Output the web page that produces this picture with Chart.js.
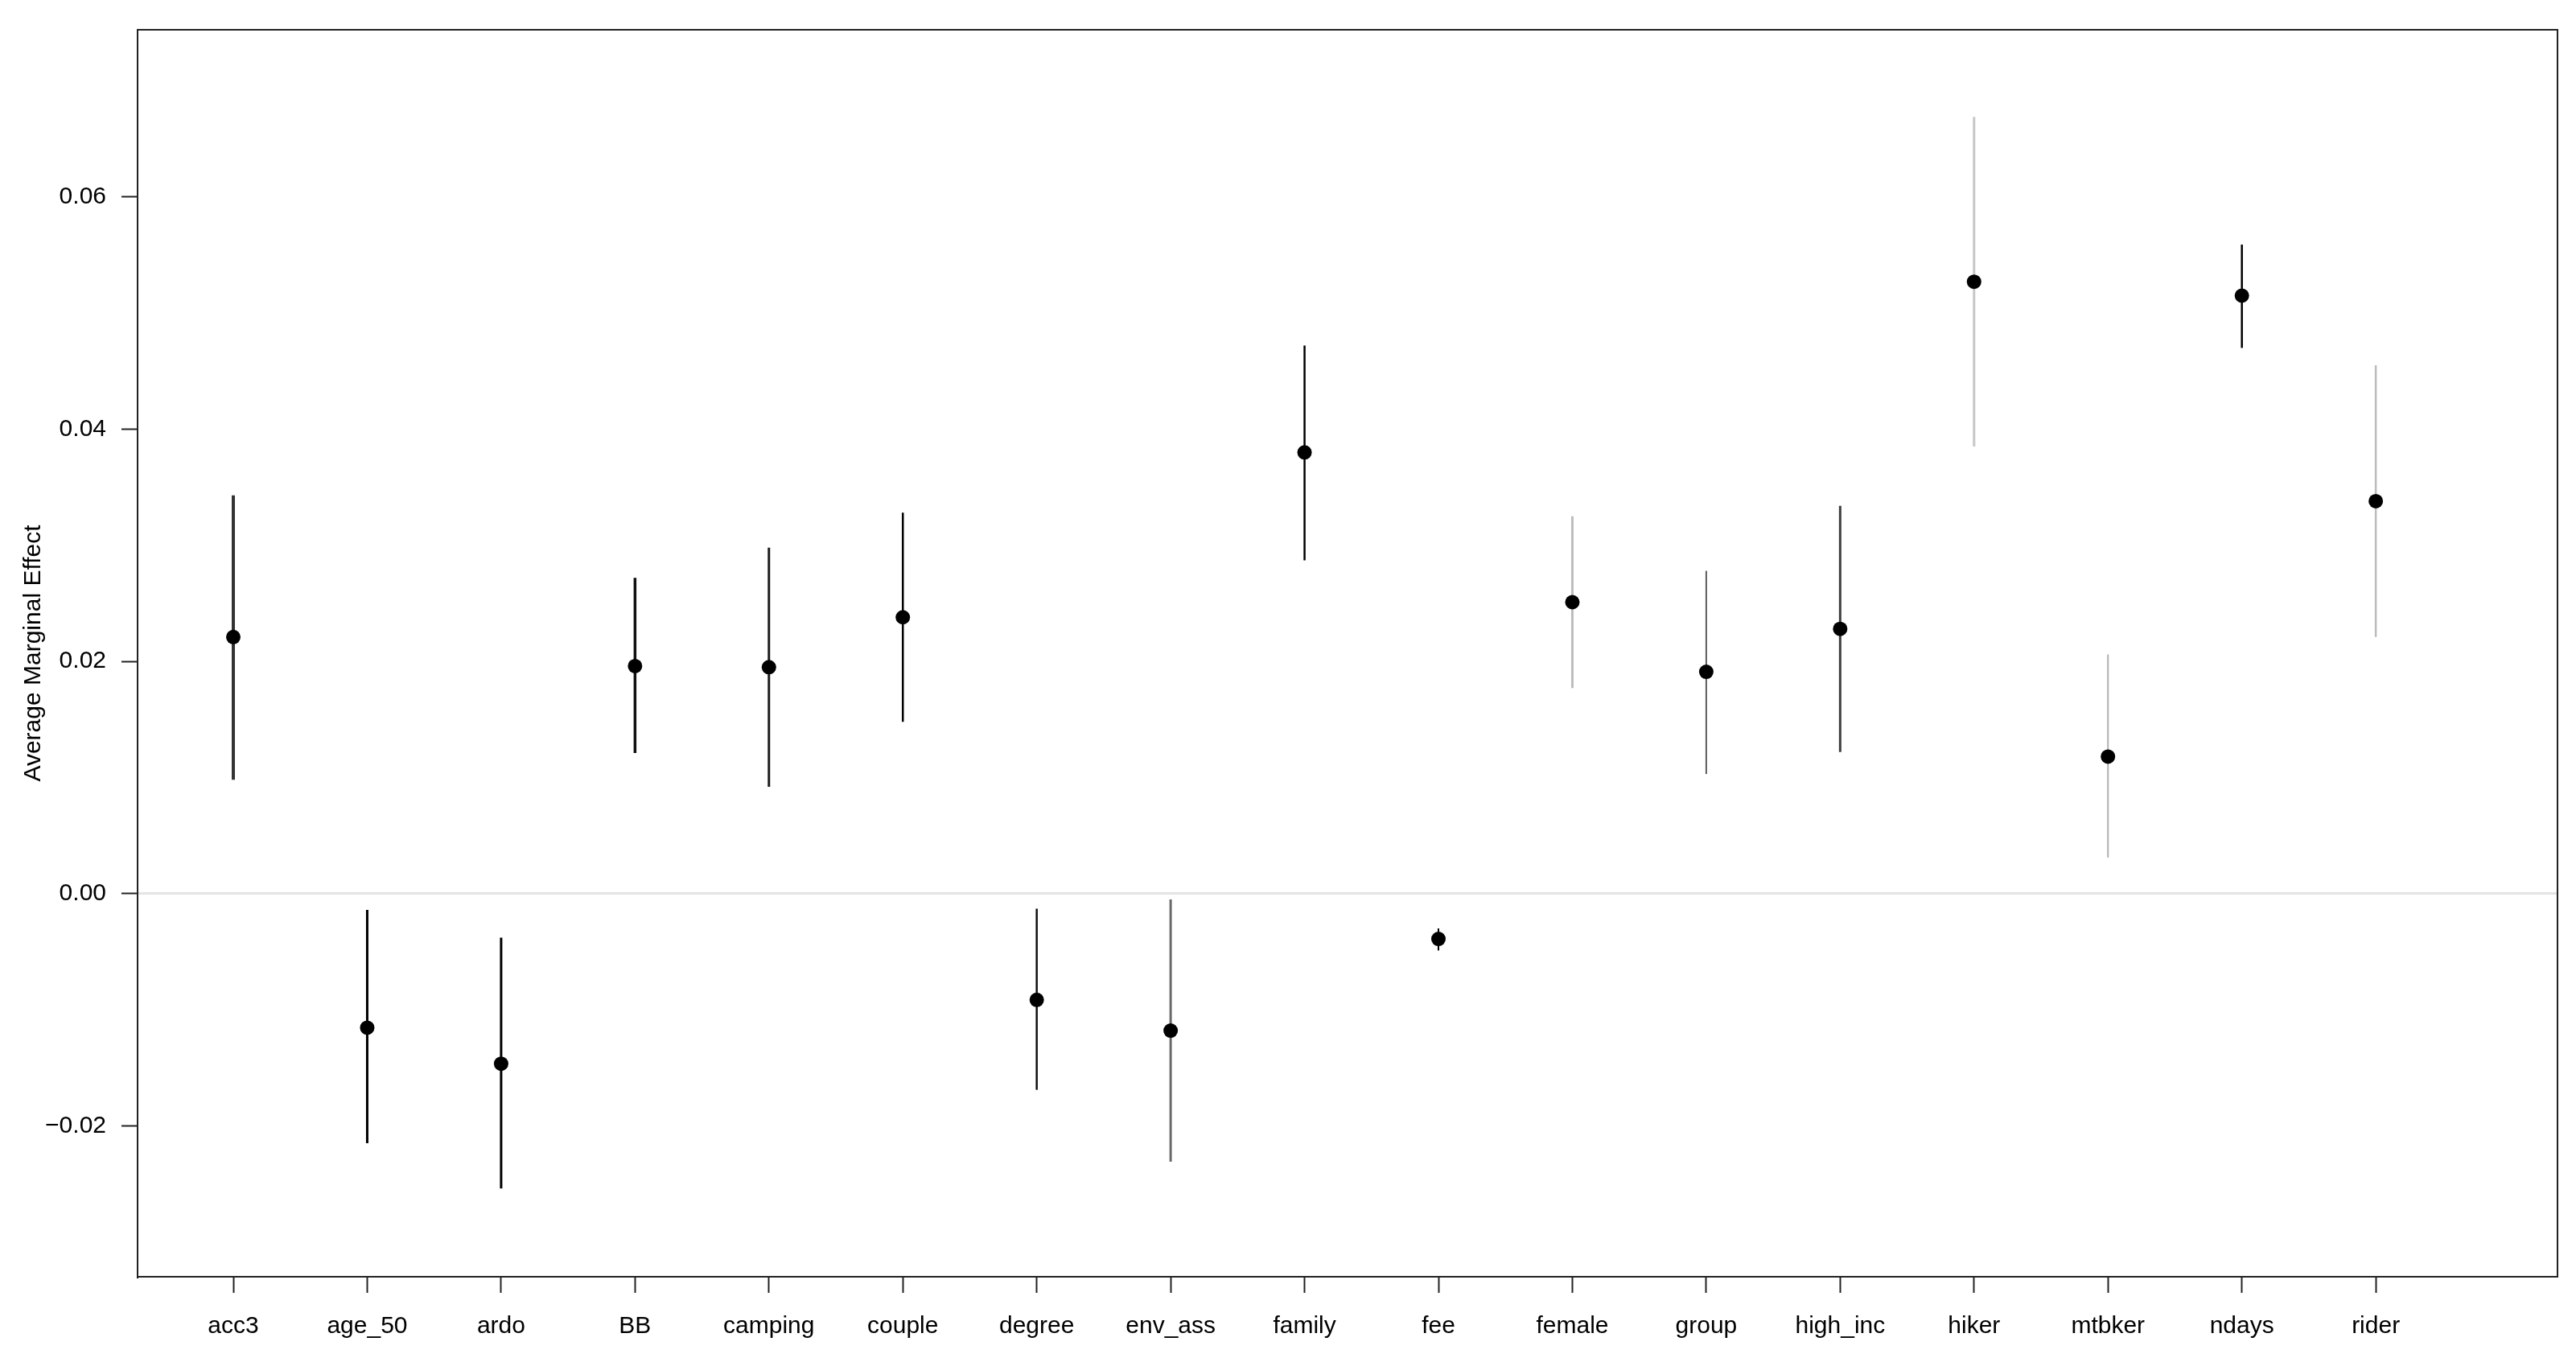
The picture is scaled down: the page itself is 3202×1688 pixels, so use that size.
<!DOCTYPE html>
<html>
<head>
<meta charset="utf-8">
<script src="https://cdn.jsdelivr.net/npm/chart.js@4/dist/chart.umd.min.js"></script>
<style>
  html, body { margin: 0; padding: 0; background: #fff; }
  canvas { display: block; }
</style>
</head>
<body>
<canvas id="ameChart" width="3202" height="1688"></canvas>
<script>
// average marginal effects with their intervals
const categories = ["acc3", "age_50", "ardo", "BB", "camping", "couple", "degree", "env_ass", "family",
    "fee", "female", "group", "high_inc", "hiker", "mtbker", "ndays", "rider"]
const effect = [0.0221, -0.01155, -0.01465, 0.0196, 0.0195, 0.0238, -0.00915, -0.0118, 0.0380,
    -0.0039, 0.0251, 0.0191, 0.0228, 0.0527, 0.0118, 0.0515, 0.0338]
const lower = [0.0098, -0.0215, -0.0254, 0.0121, 0.0092, 0.0148, -0.0169, -0.0231, 0.0287,
    -0.0049, 0.0177, 0.0103, 0.0122, 0.0385, 0.0031, 0.0470, 0.0221]
const upper = [0.0343, -0.0014, -0.0038, 0.0272, 0.0298, 0.0328, -0.0013, -0.0005, 0.0472,
    -0.0030, 0.0325, 0.0278, 0.0334, 0.0669, 0.0206, 0.0559, 0.0455]
const yTicks = [-0.02, 0.00, 0.02, 0.04, 0.06]

// styling of each interval line (not data)
const lineColors = ["#333333", "#000000", "#000000", "#111111", "#1a1a1a", "#000000", "#111111", "#6a6a6a", "#000000",
    "#000000", "#bdbdbd", "#5c5c5c", "#404040", "#c6c6c6", "#b0b0b0", "#000000", "#bcbcbc"]
const lineWidths = [4, 3, 3, 3.5, 3, 2.5, 2.5, 3, 2.5, 2, 3, 2, 3, 3, 2, 2.5, 2.5]

Chart.defaults.font.family = "'Liberation Sans', Arial, sans-serif"
Chart.defaults.color = "#000"

const tickFont = { size: 30 }

const boxPlugin = {
    id: "box",
    afterDraw(chart) {
        const { ctx, chartArea } = chart
        ctx.save()
        ctx.strokeStyle = "#222"
        ctx.lineWidth = 2
        ctx.strokeRect(chartArea.left, chartArea.top, chartArea.right - chartArea.left, chartArea.bottom - chartArea.top)
        ctx.restore()
    }
}

const intervalSets = categories.map((c, i) => ({
    type: "line",
    label: c,
    data: [{ x: i, y: lower[i] }, { x: i, y: upper[i] }],
    borderColor: lineColors[i],
    borderWidth: lineWidths[i],
    borderCapStyle: "butt",
    pointRadius: 0,
    fill: false
}))

new Chart("ameChart", {
    type: "scatter",
    data: {
        datasets: [
            {
                label: "effect",
                data: categories.map((c, i) => ({ x: i, y: effect[i] })),
                backgroundColor: "#000",
                borderWidth: 0,
                pointRadius: 9
            },
            ...intervalSets
        ]
    },
    options: {
        responsive: false,
        animation: false,
        events: [],
        layout: { padding: { top: 30, right: 23, left: 0, bottom: 0 } },
        plugins: {
            legend: { display: false },
            tooltip: { enabled: false }
        },
        scales: {
            x: {
                type: "linear",
                min: -0.715,
                max: 17.357,
                afterBuildTicks: s => { s.ticks = categories.map((c, i) => ({ value: i })) },
                afterFit: s => { s.height = 101 },
                ticks: {
                    callback: v => categories[v],
                    font: tickFont,
                    color: "#000",
                    padding: 24,
                    autoSkip: false,
                    maxRotation: 0
                },
                grid: { drawOnChartArea: false, tickLength: 20, tickColor: "#222", tickWidth: 2 },
                border: { display: true, color: "#000", width: 2 }
            },
            y: {
                type: "linear",
                min: -0.033,
                max: 0.0744,
                afterBuildTicks: s => { s.ticks = yTicks.map(v => ({ value: v })) },
                afterFit: s => { s.width = 171 },
                ticks: {
                    callback: v => (v < 0 ? "\u2212" : "") + Math.abs(v).toFixed(2),
                    font: tickFont,
                    color: "#000",
                    padding: 19
                },
                grid: {
                    color: ctx => (ctx.tick && ctx.tick.value === 0) ? "#e4e4e4" : "rgba(0,0,0,0)",
                    lineWidth: 3,
                    tickLength: 20,
                    tickColor: "#222",
                    tickWidth: 2
                },
                border: { display: true, color: "#000", width: 2 },
                title: {
                    display: true,
                    text: "Average Marginal Effect",
                    font: { size: 30 },
                    color: "#000",
                    padding: { top: 24, bottom: 0 }
                }
            }
        }
    },
    plugins: [boxPlugin]
})
</script>
</body>
</html>
